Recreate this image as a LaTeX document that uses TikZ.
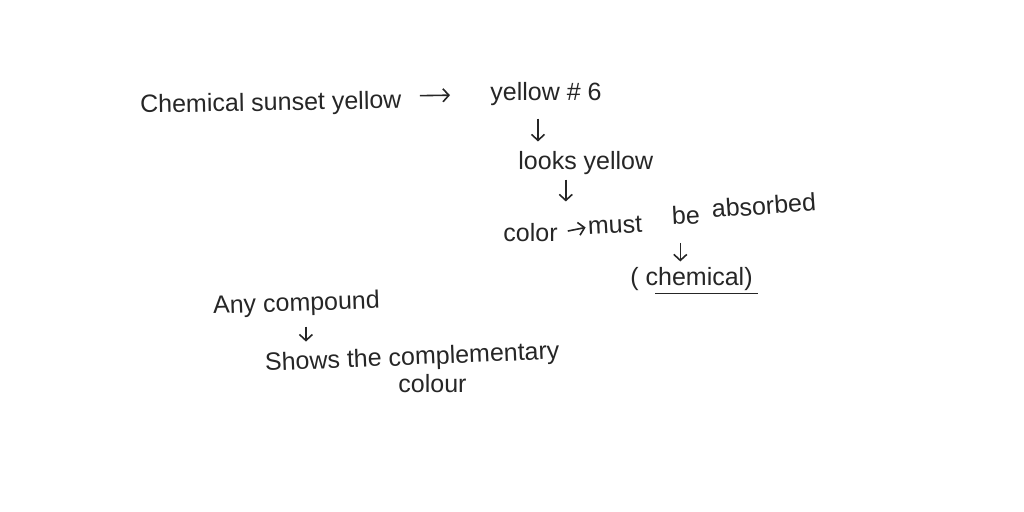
\documentclass[tikz,border=0pt]{standalone}
\usepackage{fontspec}
\setmainfont{Liberation Sans}
\usepackage{tikz}
\usetikzlibrary{arrows.meta}
\usetikzlibrary{calc}
\usetikzlibrary{positioning}

\tikzset{
  note/.style={inner sep=0pt, anchor=base west, text=black!85, font=\fontsize{12.5}{15}\selectfont},
  pen/.style={draw=black!85, line width=0.8pt, -{Straight Barb[length=3pt, width=6.5pt]}},
}

\begin{document}
\begin{tikzpicture}[x=0.5pt, y=-0.5pt]

      \useasboundingbox (0,0) rectangle (1024,512);

      \node[note, rotate=1] (sunset) at (140,113) {Chemical sunset yellow};
      \node[note] (yellowsix) at (490,101) {yellow \# 6};
      \node[note] (looks) at (518,170) {looks yellow};
      \node[note] (color) at (503,242) {color};
      \node[note, rotate=3] (must) at (588,235) {must};
      \node[note, rotate=3] (be) at (672,225) {be};
      \node[note, rotate=4] (absorbed) at (712,218) {absorbed};
      \node[note] (chem) at (630,286) {( chemical)};

      \node[note, rotate=2] (compound) at (213,314) {Any compound};
      \node[note, rotate=2.3] (shows) at (265,371) {Shows the complementary};
      \node[note] (colour) at (398,393) {colour};

      \draw[pen, shorten <=9pt, shorten >=20pt] ([yshift=3pt]sunset.east) -- (yellowsix.west);
      \draw[pen] ($(yellowsix.south)+(-8,12)$) -- ($(yellowsix.south |- looks.north)+(-8,-10)$);
      \draw[pen] ($(looks.south)+(-20,4)$) -- ($(looks.south |- color.north)+(-20,-22)$);
      \draw[pen, shorten <=5pt, shorten >=1pt] (color.east) -- (must.west);
      \draw[pen] ($(be.south)+(-6,18)$) -- ($(be.south |- chem.north)+(-6,-6)$);
      \draw[pen] ($(compound.south)+(9,10)$) -- ($(compound.south |- shows.north)+(9,-5)$);

      \draw[black!85, line width=0.9pt] ($(chem.south west)+(25,2)$) -- ($(chem.south east)+(5,2)$);

\end{tikzpicture}
\end{document}
